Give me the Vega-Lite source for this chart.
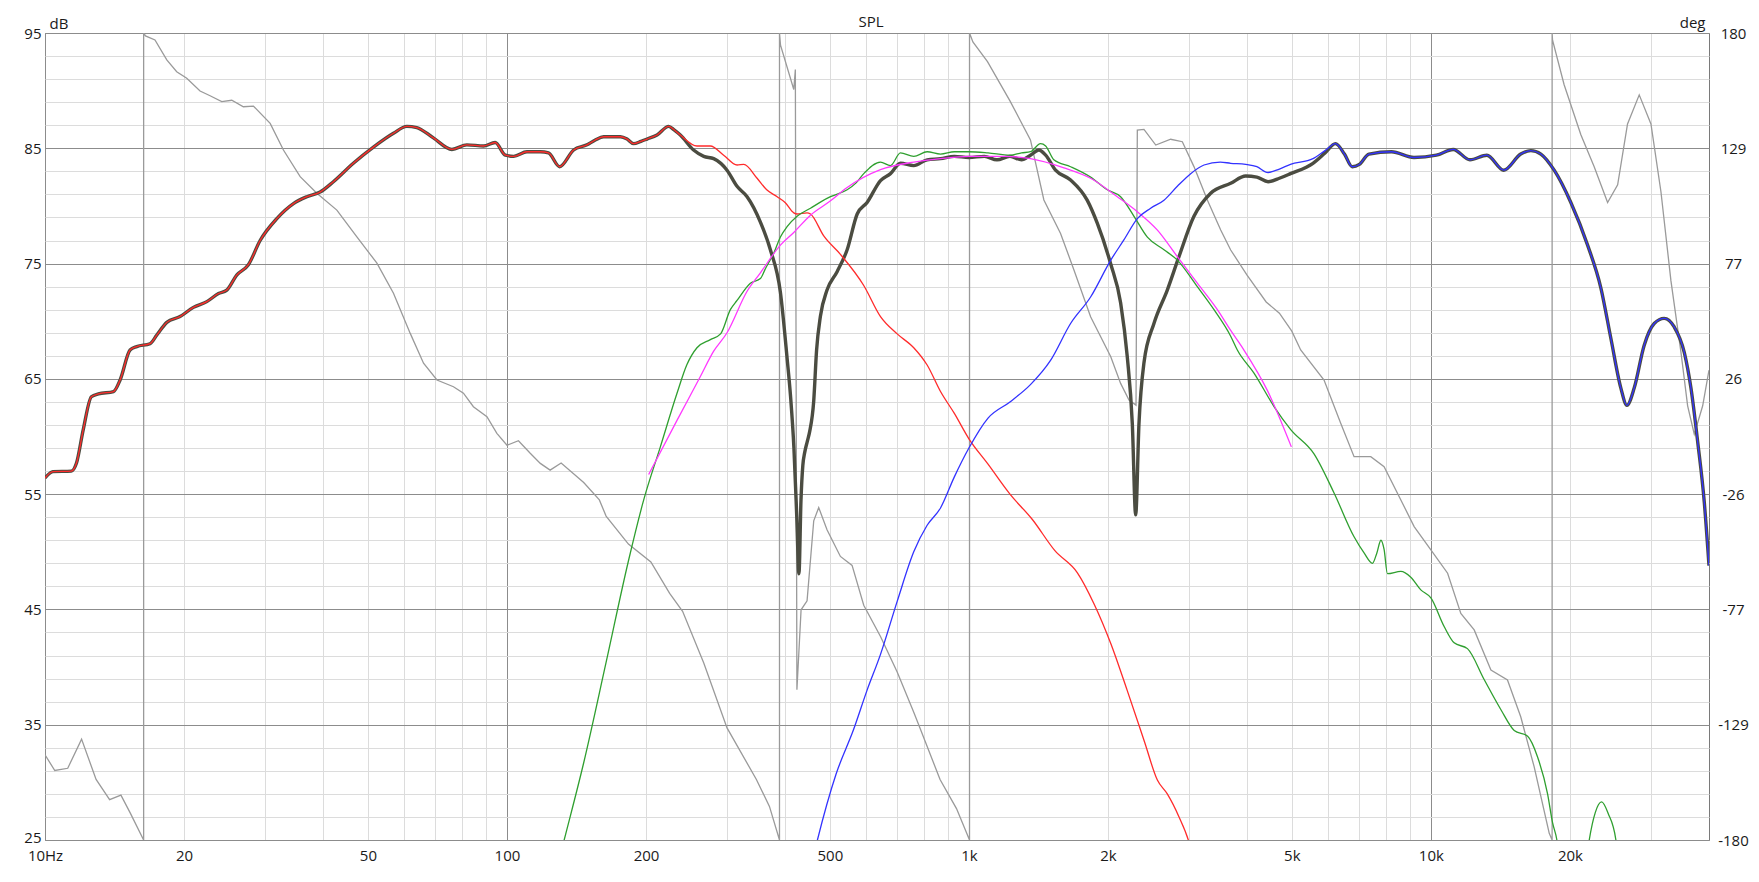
{
"$schema": "https://vega.github.io/schema/vega-lite/v6.json",
"width": 1664, "height": 807,
"autosize": {"type": "none"},
"padding": {"left": 45, "top": 33, "right": 50, "bottom": 42},
"background": "white",
"config": {"view": {"stroke": "#7a7a7a", "strokeWidth": 1}, "font": "Open Sans"},
"title": {"text": "SPL", "frame": "group", "anchor": "middle", "offset": -27, "dx": -6, "baseline": "alphabetic", "fontSize": 15, "fontWeight": "normal", "color": "#1a1a1a", "font": "Open Sans"},
"datasets": {
"phase": [
{"i":1,"f":10,"deg":-142},{"i":2,"f":10.5,"deg":-149},{"i":3,"f":11.2,"deg":-148},{"i":4,"f":12.0,"deg":-135},{"i":5,"f":12.9,"deg":-153},{"i":6,"f":13.8,"deg":-162},{"i":7,"f":14.6,"deg":-160},{"i":8,"f":15.3,"deg":-168},{"i":9,"f":16.35,"deg":-180},{"i":10,"f":16.35,"deg":180},{"i":11,"f":16.5,"deg":178.7},{"i":12,"f":17.3,"deg":176.9},{"i":13,"f":18.35,"deg":168},{"i":14,"f":19.28,"deg":162.7},{"i":15,"f":20.27,"deg":159.8},{"i":16,"f":21.66,"deg":154.1},{"i":17,"f":22.77,"deg":152},{"i":18,"f":24.13,"deg":149.4},{"i":19,"f":25.37,"deg":150},{"i":20,"f":26.88,"deg":147.1},{"i":21,"f":28.26,"deg":147.4},{"i":22,"f":30.72,"deg":139.7},{"i":23,"f":32.82,"deg":127.8},{"i":24,"f":35.67,"deg":115.9},{"i":25,"f":38.77,"deg":108.5},{"i":26,"f":42.83,"deg":101},{"i":27,"f":47.33,"deg":89.1},{"i":28,"f":52.3,"deg":77.3},{"i":29,"f":56.8,"deg":63.9},{"i":30,"f":61.75,"deg":46.0},{"i":31,"f":65.98,"deg":32.7},{"i":32,"f":70.54,"deg":25.2},{"i":33,"f":76.6,"deg":22.2},{"i":34,"f":80.5,"deg":19.3},{"i":35,"f":84.6,"deg":13.3},{"i":36,"f":90.5,"deg":8.8},{"i":37,"f":95.1,"deg":1.4},{"i":38,"f":100,"deg":-3.9},{"i":39,"f":105.9,"deg":-1.9},{"i":40,"f":112.3,"deg":-7.5},{"i":41,"f":118.1,"deg":-12},{"i":42,"f":124,"deg":-15},{"i":43,"f":131,"deg":-11.8},{"i":44,"f":146.6,"deg":-20.5},{"i":45,"f":158.5,"deg":-28.3},{"i":46,"f":163.9,"deg":-35.5},{"i":47,"f":183.2,"deg":-48},{"i":48,"f":204.9,"deg":-56},{"i":49,"f":225,"deg":-70},{"i":50,"f":240,"deg":-78},{"i":51,"f":266.7,"deg":-101},{"i":52,"f":299.5,"deg":-130},{"i":53,"f":346.7,"deg":-153},{"i":54,"f":370,"deg":-165},{"i":55,"f":389,"deg":-180},{"i":56,"f":389,"deg":180},{"i":57,"f":391,"deg":174.6},{"i":58,"f":417.7,"deg":154.8},{"i":59,"f":421,"deg":163.7},{"i":60,"f":424.3,"deg":-113},{"i":61,"f":433.2,"deg":-77.3},{"i":62,"f":446.3,"deg":-73.3},{"i":63,"f":461.4,"deg":-37.6},{"i":64,"f":473,"deg":-31.7},{"i":65,"f":493,"deg":-41.6},{"i":66,"f":527,"deg":-53.5},{"i":67,"f":558.6,"deg":-57.5},{"i":68,"f":592,"deg":-75.3},{"i":69,"f":643.6,"deg":-89.2},{"i":70,"f":699.4,"deg":-105.1},{"i":71,"f":759.6,"deg":-123},{"i":72,"f":785,"deg":-130.5},{"i":73,"f":866,"deg":-153},{"i":74,"f":940,"deg":-166},{"i":75,"f":1003,"deg":-180},{"i":76,"f":1003,"deg":180},{"i":77,"f":1020,"deg":176},{"i":78,"f":1097,"deg":167.2},{"i":79,"f":1227,"deg":149.7},{"i":80,"f":1359,"deg":132.3},{"i":81,"f":1453,"deg":105.5},{"i":82,"f":1579,"deg":90.6},{"i":83,"f":1688,"deg":74.3},{"i":84,"f":1834,"deg":53.4},{"i":85,"f":2028,"deg":35.6},{"i":86,"f":2130,"deg":23.7},{"i":87,"f":2221,"deg":16.3},{"i":88,"f":2300,"deg":14},{"i":89,"f":2315,"deg":136.7},{"i":90,"f":2393,"deg":137},{"i":91,"f":2538,"deg":130},{"i":92,"f":2734,"deg":132.6},{"i":93,"f":2897,"deg":131.5},{"i":94,"f":3070,"deg":120.4},{"i":95,"f":3282,"deg":105.5},{"i":96,"f":3508,"deg":92.1},{"i":97,"f":3687,"deg":83.2},{"i":98,"f":4000,"deg":72},{"i":99,"f":4400,"deg":60},{"i":100,"f":4700,"deg":55},{"i":101,"f":5000,"deg":47},{"i":102,"f":5226,"deg":38.6},{"i":103,"f":5871,"deg":25.2},{"i":104,"f":6380,"deg":5.9},{"i":105,"f":6819,"deg":-9.0},{"i":106,"f":7412,"deg":-9.0},{"i":107,"f":7920,"deg":-13.5},{"i":108,"f":8610,"deg":-28.3},{"i":109,"f":9200,"deg":-40.2},{"i":110,"f":10000,"deg":-50.6},{"i":111,"f":10870,"deg":-61.0},{"i":112,"f":11610,"deg":-78.9},{"i":113,"f":12410,"deg":-86.3},{"i":114,"f":13490,"deg":-104.2},{"i":115,"f":14650,"deg":-108.6},{"i":116,"f":15650,"deg":-125},{"i":117,"f":16730,"deg":-147.3},{"i":118,"f":18040,"deg":-177},{"i":119,"f":18300,"deg":-180},{"i":120,"f":18300,"deg":180},{"i":121,"f":18340,"deg":176.8},{"i":122,"f":19430,"deg":156.9},{"i":123,"f":21120,"deg":134.6},{"i":124,"f":22570,"deg":120.3},{"i":125,"f":24130,"deg":104.4},{"i":126,"f":25370,"deg":112.3},{"i":127,"f":26650,"deg":139.4},{"i":128,"f":28250,"deg":152.4},{"i":129,"f":29950,"deg":139.4},{"i":130,"f":31480,"deg":109.2},{"i":131,"f":33090,"deg":69.4},{"i":132,"f":34780,"deg":37.6},{"i":133,"f":35960,"deg":13.7},{"i":134,"f":37170,"deg":1.0},{"i":135,"f":38760,"deg":13.7},{"i":136,"f":40000,"deg":29.6}
],
"spl": [
{"s":"lf","f":10,"db":56.4},{"s":"lf","f":10.4,"db":56.95},{"s":"lf","f":11.4,"db":57.0},{"s":"lf","f":11.7,"db":57.7},{"s":"lf","f":12.1,"db":60.6},{"s":"lf","f":12.6,"db":63.45},{"s":"lf","f":13.05,"db":63.7},{"s":"lf","f":14.07,"db":63.9},{"s":"lf","f":14.54,"db":64.9},{"s":"lf","f":15.28,"db":67.5},{"s":"lf","f":15.8,"db":67.8},{"s":"lf","f":16.88,"db":68.05},{"s":"lf","f":17.46,"db":68.8},{"s":"lf","f":18.35,"db":69.9},{"s":"lf","f":19.6,"db":70.4},{"s":"lf","f":20.95,"db":71.2},{"s":"lf","f":22.4,"db":71.7},{"s":"lf","f":23.74,"db":72.4},{"s":"lf","f":24.75,"db":72.7},{"s":"lf","f":26.0,"db":74.0},{"s":"lf","f":27.56,"db":74.9},{"s":"lf","f":29.22,"db":77.0},{"s":"lf","f":31.76,"db":78.9},{"s":"lf","f":34.5,"db":80.2},{"s":"lf","f":36.9,"db":80.8},{"s":"lf","f":39.4,"db":81.2},{"s":"lf","f":42.1,"db":82.1},{"s":"lf","f":46.5,"db":83.7},{"s":"lf","f":51.4,"db":85.1},{"s":"lf","f":56.8,"db":86.3},{"s":"lf","f":60.7,"db":86.9},{"s":"lf","f":63.8,"db":86.8},{"s":"lf","f":69.3,"db":85.9},{"s":"lf","f":76.0,"db":84.9},{"s":"lf","f":81.9,"db":85.3},{"s":"lf","f":89.0,"db":85.2},{"s":"lf","f":94.3,"db":85.5},{"s":"lf","f":99.2,"db":84.4},{"s":"lf","f":103.4,"db":84.3},{"s":"lf","f":110.5,"db":84.7},{"s":"lf","f":118.1,"db":84.7},{"s":"lf","f":123,"db":84.6},{"s":"lf","f":130,"db":83.4},{"s":"lf","f":139.4,"db":84.85},{"s":"lf","f":149,"db":85.3},{"s":"lf","f":155,"db":85.7},{"s":"lf","f":161.9,"db":86.0},{"s":"lf","f":176,"db":86.0},{"s":"lf","f":182,"db":85.8},{"s":"lf","f":188,"db":85.4},{"s":"lf","f":195,"db":85.6},{"s":"lf","f":201,"db":85.8},{"s":"lf","f":211.3,"db":86.15},{"s":"lf","f":223.9,"db":86.9},{"s":"lf","f":230,"db":86.6},{"s":"lf","f":237.3,"db":86.15},
{"s":"sum","f":253.5,"db":84.85},{"s":"sum","f":266.7,"db":84.3},{"s":"sum","f":280.2,"db":84.1},{"s":"sum","f":299.5,"db":83.1},{"s":"sum","f":314.8,"db":81.7},{"s":"sum","f":331,"db":80.8},{"s":"sum","f":353.7,"db":78.6},{"s":"sum","f":371.7,"db":76.2},{"s":"sum","f":390.8,"db":72.5},{"s":"sum","f":404,"db":66.8},{"s":"sum","f":411,"db":63.5},{"s":"sum","f":418,"db":59.0},{"s":"sum","f":424,"db":53.0},{"s":"sum","f":428.6,"db":48.1},{"s":"sum","f":433,"db":54.5},{"s":"sum","f":437,"db":57.5},{"s":"sum","f":441,"db":58.6},{"s":"sum","f":447,"db":59.6},{"s":"sum","f":452,"db":60.4},{"s":"sum","f":461.4,"db":63.1},{"s":"sum","f":468,"db":67.5},{"s":"sum","f":476.9,"db":70.4},{"s":"sum","f":493,"db":72.7},{"s":"sum","f":518.4,"db":74.3},{"s":"sum","f":545,"db":76.2},{"s":"sum","f":573,"db":79.3},{"s":"sum","f":602,"db":80.3},{"s":"sum","f":643.6,"db":82.2},{"s":"sum","f":676.4,"db":82.8},{"s":"sum","f":710.9,"db":83.7},{"s":"sum","f":759.6,"db":83.5},{"s":"sum","f":812,"db":84.0},{"s":"sum","f":868,"db":84.1},{"s":"sum","f":930,"db":84.3},{"s":"sum","f":1000,"db":84.2},{"s":"sum","f":1080,"db":84.3},{"s":"sum","f":1150,"db":84.0},{"s":"sum","f":1227,"db":84.3},{"s":"sum","f":1300,"db":84.0},{"s":"sum","f":1359,"db":84.4},{"s":"sum","f":1417,"db":84.85},{"s":"sum","f":1466,"db":84.4},{"s":"sum","f":1540,"db":83.1},{"s":"sum","f":1660,"db":82.25},{"s":"sum","f":1803,"db":80.5},{"s":"sum","f":1896,"db":78.5},{"s":"sum","f":2026,"db":75.0},{"s":"sum","f":2130,"db":71.6},{"s":"sum","f":2202,"db":66.9},{"s":"sum","f":2258,"db":61.1},{"s":"sum","f":2296,"db":53.2},{"s":"sum","f":2334,"db":61.1},{"s":"sum","f":2393,"db":66.4},{"s":"sum","f":2515,"db":69.8},{"s":"sum","f":2688,"db":72.7},{"s":"sum","f":2849,"db":75.6},{"s":"sum","f":3070,"db":79.1},{"s":"sum","f":3337,"db":81.1},{"s":"sum","f":3687,"db":81.96},{"s":"sum","f":3972,"db":82.6},{"s":"sum","f":4200,"db":82.5},{"s":"sum","f":4441,"db":82.1},{"s":"sum","f":4700,"db":82.4},{"s":"sum","f":4966,"db":82.8},{"s":"sum","f":5556,"db":83.7},{"s":"sum","f":5900,"db":84.6},
{"s":"hf","f":6215,"db":85.4},{"s":"hf","f":6500,"db":84.5},{"s":"hf","f":6756,"db":83.4},{"s":"hf","f":7000,"db":83.6},{"s":"hf","f":7345,"db":84.5},{"s":"hf","f":8217,"db":84.7},{"s":"hf","f":9192,"db":84.2},{"s":"hf","f":10280,"db":84.4},{"s":"hf","f":11180,"db":84.9},{"s":"hf","f":12150,"db":84.0},{"s":"hf","f":13220,"db":84.4},{"s":"hf","f":14380,"db":83.1},{"s":"hf","f":15650,"db":84.5},{"s":"hf","f":16460,"db":84.8},{"s":"hf","f":17300,"db":84.5},{"s":"hf","f":18490,"db":83.1},{"s":"hf","f":20090,"db":80.3},{"s":"hf","f":21840,"db":76.6},{"s":"hf","f":23330,"db":72.9},{"s":"hf","f":24530,"db":68.5},{"s":"hf","f":25780,"db":64.2},{"s":"hf","f":26570,"db":62.7},{"s":"hf","f":27550,"db":64.2},{"s":"hf","f":28950,"db":67.9},{"s":"hf","f":30440,"db":69.8},{"s":"hf","f":31990,"db":70.25},{"s":"hf","f":33640,"db":69.5},{"s":"hf","f":35360,"db":67.3},{"s":"hf","f":36560,"db":64.2},{"s":"hf","f":37790,"db":59.6},{"s":"hf","f":39070,"db":54.3},{"s":"hf","f":40000,"db":48.8},
{"s":"red","f":257.8,"db":85.2},{"s":"red","f":275.6,"db":85.2},{"s":"red","f":294.5,"db":84.4},{"s":"red","f":314.8,"db":83.55},{"s":"red","f":325.5,"db":83.6},{"s":"red","f":347.9,"db":82.4},{"s":"red","f":365,"db":81.4},{"s":"red","f":384.5,"db":80.8},{"s":"red","f":400,"db":80.3},{"s":"red","f":417.7,"db":79.4},{"s":"red","f":424.6,"db":79.3},{"s":"red","f":446.3,"db":79.4},{"s":"red","f":454,"db":79.3},{"s":"red","f":485,"db":77.4},{"s":"red","f":527,"db":75.8},{"s":"red","f":592,"db":73.1},{"s":"red","f":643.6,"db":70.4},{"s":"red","f":699.4,"db":68.9},{"s":"red","f":759.6,"db":67.7},{"s":"red","f":812,"db":66.2},{"s":"red","f":868,"db":63.9},{"s":"red","f":930,"db":62.0},{"s":"red","f":1000,"db":59.8},{"s":"red","f":1100,"db":57.6},{"s":"red","f":1227,"db":55.0},{"s":"red","f":1372,"db":52.8},{"s":"red","f":1535,"db":50.1},{"s":"red","f":1716,"db":48.2},{"s":"red","f":1865,"db":45.5},{"s":"red","f":2030,"db":42.0},{"s":"red","f":2200,"db":38.0},{"s":"red","f":2400,"db":33.5},{"s":"red","f":2558,"db":30.2},{"s":"red","f":2688,"db":29.0},{"s":"red","f":2850,"db":27.0},{"s":"red","f":2985,"db":25.0},{"s":"red","f":3150,"db":21},
{"s":"green","f":120,"db":18},{"s":"green","f":133,"db":25},{"s":"green","f":146.6,"db":31.7},{"s":"green","f":163.9,"db":40.4},{"s":"green","f":183.2,"db":49.2},{"s":"green","f":197.7,"db":54.5},{"s":"green","f":214.8,"db":59.1},{"s":"green","f":233.4,"db":63.75},{"s":"green","f":245,"db":66.2},{"s":"green","f":257.8,"db":67.7},{"s":"green","f":275.6,"db":68.4},{"s":"green","f":290,"db":68.9},{"s":"green","f":304.5,"db":71.0},{"s":"green","f":314.8,"db":71.8},{"s":"green","f":336.5,"db":73.3},{"s":"green","f":353.7,"db":73.7},{"s":"green","f":362,"db":74.5},{"s":"green","f":378,"db":75.9},{"s":"green","f":390.8,"db":77.3},{"s":"green","f":404,"db":78.2},{"s":"green","f":424.6,"db":79.1},{"s":"green","f":454,"db":79.8},{"s":"green","f":480,"db":80.4},{"s":"green","f":501.6,"db":80.8},{"s":"green","f":545,"db":81.4},{"s":"green","f":570,"db":82.0},{"s":"green","f":592,"db":82.8},{"s":"green","f":643.6,"db":83.8},{"s":"green","f":676.4,"db":83.5},{"s":"green","f":710.9,"db":84.6},{"s":"green","f":759.6,"db":84.3},{"s":"green","f":812,"db":84.7},{"s":"green","f":868,"db":84.5},{"s":"green","f":930,"db":84.7},{"s":"green","f":1000,"db":84.7},{"s":"green","f":1100,"db":84.6},{"s":"green","f":1227,"db":84.4},{"s":"green","f":1300,"db":84.6},{"s":"green","f":1359,"db":84.7},{"s":"green","f":1429,"db":85.4},{"s":"green","f":1466,"db":85.2},{"s":"green","f":1527,"db":84.0},{"s":"green","f":1660,"db":83.4},{"s":"green","f":1834,"db":82.5},{"s":"green","f":1993,"db":81.4},{"s":"green","f":2130,"db":80.8},{"s":"green","f":2277,"db":79.1},{"s":"green","f":2434,"db":77.3},{"s":"green","f":2644,"db":76.2},{"s":"green","f":2826,"db":75.3},{"s":"green","f":3122,"db":73.0},{"s":"green","f":3393,"db":71.0},{"s":"green","f":3687,"db":68.7},{"s":"green","f":3811,"db":67.5},{"s":"green","f":4141,"db":65.5},{"s":"green","f":4576,"db":62.6},{"s":"green","f":4973,"db":60.6},{"s":"green","f":5585,"db":58.5},{"s":"green","f":6172,"db":55.1},{"s":"green","f":6819,"db":51.3},{"s":"green","f":7168,"db":49.9},{"s":"green","f":7473,"db":49.0},{"s":"green","f":7640,"db":49.9},{"s":"green","f":7795,"db":51.0},{"s":"green","f":7920,"db":50.2},{"s":"green","f":8053,"db":48.1},{"s":"green","f":8610,"db":48.3},{"s":"green","f":9048,"db":47.8},{"s":"green","f":9511,"db":46.7},{"s":"green","f":10000,"db":46.0},{"s":"green","f":10690,"db":43.5},{"s":"green","f":11230,"db":42.1},{"s":"green","f":12000,"db":41.6},{"s":"green","f":13050,"db":38.9},{"s":"green","f":14180,"db":36.3},{"s":"green","f":15150,"db":34.5},{"s":"green","f":16200,"db":34.0},{"s":"green","f":17020,"db":32.2},{"s":"green","f":17890,"db":29.0},{"s":"green","f":18340,"db":26.5},{"s":"green","f":18740,"db":25.0},{"s":"green","f":19500,"db":18},{"s":"green","f":21000,"db":18},{"s":"green","f":22020,"db":25},{"s":"green","f":22700,"db":27.4},{"s":"green","f":23420,"db":28.3},{"s":"green","f":24200,"db":27.3},{"s":"green","f":25150,"db":25},{"s":"green","f":26000,"db":18},
{"s":"mag","f":202.6,"db":56.7},{"s":"mag","f":233.4,"db":61.4},{"s":"mag","f":262.2,"db":65.2},{"s":"mag","f":280.2,"db":67.4},{"s":"mag","f":299.5,"db":69.0},{"s":"mag","f":331,"db":72.6},{"s":"mag","f":353.7,"db":74.2},{"s":"mag","f":390.8,"db":76.6},{"s":"mag","f":417.7,"db":77.7},{"s":"mag","f":454,"db":79.2},{"s":"mag","f":500,"db":80.4},{"s":"mag","f":545,"db":81.6},{"s":"mag","f":643.6,"db":83.15},{"s":"mag","f":759.6,"db":83.8},{"s":"mag","f":868,"db":84.1},{"s":"mag","f":1000,"db":84.3},{"s":"mag","f":1200,"db":84.3},{"s":"mag","f":1359,"db":84.1},{"s":"mag","f":1606,"db":83.3},{"s":"mag","f":1834,"db":82.4},{"s":"mag","f":2095,"db":80.8},{"s":"mag","f":2315,"db":79.5},{"s":"mag","f":2559,"db":77.9},{"s":"mag","f":2826,"db":75.6},{"s":"mag","f":3122,"db":73.3},{"s":"mag","f":3450,"db":71.0},{"s":"mag","f":3687,"db":69.2},{"s":"mag","f":3939,"db":67.5},{"s":"mag","f":4426,"db":64.0},{"s":"mag","f":4989,"db":59.1},
{"s":"blue","f":440,"db":20},{"s":"blue","f":470,"db":25},{"s":"blue","f":515.6,"db":30.7},{"s":"blue","f":563,"db":34.6},{"s":"blue","f":602,"db":38.0},{"s":"blue","f":643.6,"db":41.1},{"s":"blue","f":699.4,"db":45.7},{"s":"blue","f":759.6,"db":50.0},{"s":"blue","f":812,"db":52.3},{"s":"blue","f":868,"db":53.8},{"s":"blue","f":930,"db":56.5},{"s":"blue","f":1000,"db":59.0},{"s":"blue","f":1100,"db":61.6},{"s":"blue","f":1227,"db":63.0},{"s":"blue","f":1359,"db":64.5},{"s":"blue","f":1502,"db":66.6},{"s":"blue","f":1660,"db":69.8},{"s":"blue","f":1834,"db":72.1},{"s":"blue","f":2028,"db":75.3},{"s":"blue","f":2165,"db":77.05},{"s":"blue","f":2315,"db":78.9},{"s":"blue","f":2474,"db":79.8},{"s":"blue","f":2644,"db":80.5},{"s":"blue","f":2826,"db":81.7},{"s":"blue","f":3020,"db":82.8},{"s":"blue","f":3228,"db":83.55},{"s":"blue","f":3500,"db":83.8},{"s":"blue","f":3687,"db":83.7},{"s":"blue","f":3972,"db":83.6},{"s":"blue","f":4200,"db":83.4},{"s":"blue","f":4441,"db":82.9},{"s":"blue","f":4700,"db":83.2},{"s":"blue","f":4966,"db":83.6},{"s":"blue","f":5556,"db":84.1},{"s":"blue","f":5900,"db":84.8}
]
},
"layer": [
{
"data": {"name": "phase"},
"mark": {"type": "line", "color": "#9a9a9a", "strokeWidth": 1.3, "clip": true},
"encoding": {
"x": {"field": "f", "type": "quantitative", "scale": {"type": "log", "domain": [10, 40000], "nice": false, "zero": false},
"axis": {"orient": "bottom", "values": [10,20,30,40,50,60,70,80,90,100,200,300,400,500,600,700,800,900,1000,2000,3000,4000,5000,6000,7000,8000,9000,10000,20000,30000], "labelExpr": "datum.value == 10 ? '10Hz' : (indexof([20,50,100,200,500,1000,2000,5000,10000,20000], datum.value) >= 0 ? (datum.value >= 1000 ? (datum.value / 1000) + 'k' : '' + datum.value) : '')", "grid": true, "gridColor": {"condition": {"test": "datum.value == 10 || datum.value == 100 || datum.value == 1000 || datum.value == 10000", "value": "#8c8c8c"}, "value": "#dcdcdc"}, "gridWidth": 1, "gridOpacity": 1, "ticks": false, "domain": false, "labelPadding": 8, "labelFontSize": 15, "labelColor": "#1a1a1a", "labelFont": "Open Sans", "labelOverlap": false, "labelFlush": false, "labelBound": false, "title": null}},
"y": {"field": "deg", "type": "quantitative", "scale": {"domain": [-180, 180], "nice": false, "zero": false},
"axis": {"orient": "right", "values": [-180, -128.5714, -77.1429, -25.7143, 25.7143, 77.1429, 128.5714, 180], "labelExpr": "'' + round(datum.value)", "grid": false, "ticks": false, "domain": false, "labelAlign": "center", "labelBaseline": "middle", "labelPadding": 24, "labelFontSize": 15, "labelColor": "#1a1a1a", "labelFont": "Open Sans", "labelOverlap": false, "labelFlush": false, "labelBound": false, "title": "deg", "titleAngle": 0, "titleX": -4, "titleY": -6, "titleAlign": "right", "titleBaseline": "alphabetic", "titleFontSize": 15, "titleFontWeight": "normal", "titleColor": "#1a1a1a", "titleFont": "Open Sans"}},
"order": {"field": "i", "type": "quantitative"}
}
},
{
"data": {"name": "spl"},
"encoding": {
"x": {"field": "f", "type": "quantitative", "scale": {"type": "log", "domain": [10, 40000], "nice": false, "zero": false}},
"y": {"field": "db", "type": "quantitative", "scale": {"domain": [25, 95], "nice": false, "zero": false},
"axis": {"orient": "left", "values": [25,27,29,31,33,35,37,39,41,43,45,47,49,51,53,55,57,59,61,63,65,67,69,71,73,75,77,79,81,83,85,87,89,91,93,95], "labelExpr": "(datum.value + 5) % 10 == 0 ? datum.label : ''", "grid": true, "gridColor": {"condition": {"test": "(datum.value + 5) % 10 == 0", "value": "#8c8c8c"}, "value": "#dcdcdc"}, "gridWidth": 1, "gridOpacity": 1, "ticks": false, "domain": false, "labelPadding": 4, "labelBaseline": "middle", "labelOffset": {"condition": {"test": "datum.value == 25", "value": -3}, "value": 0}, "labelFontSize": 15, "labelColor": "#1a1a1a", "labelFont": "Open Sans", "labelOverlap": false, "labelFlush": false, "labelBound": false, "title": "dB", "titleAngle": 0, "titleX": 4, "titleY": -5, "titleAlign": "left", "titleBaseline": "alphabetic", "titleFontSize": 15, "titleFontWeight": "normal", "titleColor": "#1a1a1a", "titleFont": "Open Sans"}}
},
"layer": [
{"transform": [{"filter": {"field": "s", "oneOf": ["lf", "sum", "hf"]}}], "mark": {"type": "line", "color": "#4b4c41", "strokeWidth": 3.4, "interpolate": "monotone", "clip": true}, "encoding": {}},
{"transform": [{"filter": {"field": "s", "oneOf": ["lf", "red"]}}], "mark": {"type": "line", "color": "#ff2b2b", "strokeWidth": 1.3, "interpolate": "monotone", "clip": true}, "encoding": {}},
{"transform": [{"filter": {"field": "s", "equal": "green"}}], "mark": {"type": "line", "color": "#2f9f2f", "strokeWidth": 1.3, "interpolate": "monotone", "clip": true}, "encoding": {}},
{"transform": [{"filter": {"field": "s", "equal": "mag"}}], "mark": {"type": "line", "color": "#ff38ff", "strokeWidth": 1.3, "interpolate": "monotone", "clip": true}, "encoding": {}},
{"transform": [{"filter": {"field": "s", "oneOf": ["blue", "hf"]}}], "mark": {"type": "line", "color": "#3232ff", "strokeWidth": 1.3, "interpolate": "monotone", "clip": true}, "encoding": {}}
]
}
],
"resolve": {"scale": {"y": "independent"}, "axis": {"y": "independent"}}
}
